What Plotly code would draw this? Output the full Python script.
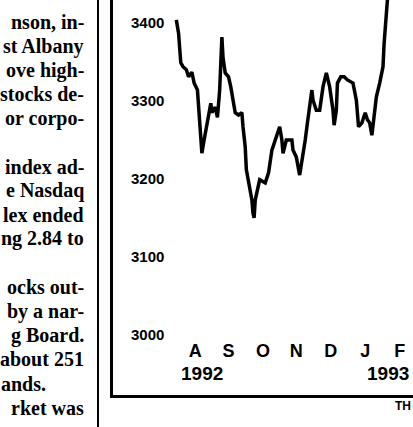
import plotly.graph_objects as go

# ---- data ----
dates = ["1992-07-30","1992-08-01","1992-08-03","1992-08-05","1992-08-08","1992-08-10","1992-08-13","1992-08-15",
         "1992-08-18","1992-08-19","1992-08-21","1992-08-22","1992-08-24","1992-08-27","1992-08-30","1992-08-31",
         "1992-09-03","1992-09-05","1992-09-07","1992-09-09","1992-09-10","1992-09-12","1992-09-15","1992-09-17",
         "1992-09-19","1992-09-21","1992-09-24","1992-09-27","1992-09-28","1992-09-30",
         "1992-10-01","1992-10-04","1992-10-06","1992-10-07","1992-10-08","1992-10-09","1992-10-12","1992-10-13",
         "1992-10-18","1992-10-21","1992-10-24","1992-10-27","1992-10-31",
         "1992-11-02","1992-11-03","1992-11-06","1992-11-11","1992-11-12","1992-11-15","1992-11-18","1992-11-20",
         "1992-11-23","1992-11-25","1992-11-27","1992-11-29","1992-11-30",
         "1992-12-03","1992-12-06","1992-12-09","1992-12-12","1992-12-15","1992-12-18","1992-12-19","1992-12-21",
         "1992-12-22","1992-12-25","1992-12-28","1992-12-31",
         "1993-01-05","1993-01-08","1993-01-10","1993-01-13","1993-01-16","1993-01-18","1993-01-20","1993-01-22",
         "1993-01-24","1993-01-26","1993-01-29",
         "1993-02-01","1993-02-02","1993-02-04","1993-02-05","1993-02-08"]
values = [3404,3387,3349,3344,3340,3331,3337,3323,3314,3292,3259,3233,3250,3272,3297,3285,
          3292,3279,3314,3382,3356,3336,3331,3318,3301,3285,3282,3285,3267,3241,
          3212,3186,3173,3156,3150,3173,3190,3199,3195,3208,3237,3250,3267,
          3250,3233,3250,3250,3237,3228,3205,3221,3250,3272,3292,3314,3301,
          3288,3288,3318,3336,3318,3288,3269,3288,3323,3331,3331,3327,
          3323,3301,3267,3272,3285,3276,3272,3256,3279,3305,3323,
          3344,3374,3404,3430,3445]

y_tick_values = [3000, 3100, 3200, 3300, 3400]
y_tick_labels = ["3000", "3100", "3200", "3300", "3400"]
month_dates = ["1992-08-16", "1992-09-15", "1992-10-16", "1992-11-15", "1992-12-16", "1993-01-16", "1993-02-16"]
month_labels = ["A", "S", "O", "N", "D", "J", "F"]
year_labels = ["1992", "1993"]
year_dates = ["1992-08-22", "1993-02-26"]
year_anchor = ["center", "right"]
year_level = 2951

column_text = ["nson, in-", "st Albany", "ove high-", "stocks de-", "or corpo-", "",
               "index ad-", "e Nasdaq", "lex ended", "ng 2.84 to", "",
               "ocks out-", "by a nar-", "g Board.", "about 251", "ands.", "rket was"]
credit_text = "TH"

# ---- layout helpers (pixel -> paper) ----
W, H = 413, 427
L, T, B = 113, 0, 32
PW, PH = W - L, H - T - B


def px(x):
    return (x - L) / PW


def py(y):
    return (T + PH - y) / PH


fig = go.Figure()
fig.add_trace(go.Scatter(x=dates, y=values, mode="lines",
                         line=dict(color="black", width=3.5), hoverinfo="skip"))

annotations = []
serif = "Liberation Serif, Times New Roman, serif"
for i, t in enumerate(column_text):
    if not t:
        continue
    right = 48 if t == "ands." else 86
    annotations.append(dict(x=px(right), y=py(22 + 24.1 * i), xref="paper", yref="paper",
                            text=t, showarrow=False, xanchor="right", yanchor="middle",
                            font=dict(family=serif, size=20, color="black", weight="bold")))

for lab, d, anc in zip(year_labels, year_dates, year_anchor):
    annotations.append(dict(x=d, y=year_level, xref="x", yref="y", text=lab, showarrow=False,
                            xanchor=anc, yanchor="middle",
                            font=dict(family="Liberation Sans, Arial, sans-serif",
                                      size=19, color="black", weight="bold")))

annotations.append(dict(x=px(413), y=py(406), xref="paper", yref="paper", text=credit_text,
                        showarrow=False, xanchor="right", yanchor="middle",
                        font=dict(family="Liberation Sans, sans-serif", size=12,
                                  color="black", weight="bold")))

shapes = [dict(type="line", xref="paper", yref="paper", x0=px(98), x1=px(98), y0=py(0), y1=py(427),
               line=dict(color="black", width=2))]

fig.update_layout(
    width=W, height=H,
    margin=dict(l=L, r=0, t=T, b=B, pad=0),
    paper_bgcolor="white", plot_bgcolor="white",
    showlegend=False,
    annotations=annotations,
    shapes=shapes,
    xaxis=dict(type="date", range=["1992-06-03", "1993-02-28"],
               tickmode="array", tickvals=month_dates, ticktext=month_labels,
               ticks="", showgrid=False, zeroline=False,
               showline=True, linecolor="black", linewidth=3,
               ticklabelposition="inside", ticklabelstandoff=35, ticklabeloverflow="allow",
               tickfont=dict(family="Liberation Sans, Arial, sans-serif", size=18,
                             color="black", weight="bold")),
    yaxis=dict(range=[2923, 3429.5], tickmode="array", tickvals=y_tick_values, ticktext=y_tick_labels,
               ticks="", showgrid=False, zeroline=False,
               showline=True, linecolor="black", linewidth=3,
               ticklabelposition="inside", ticklabelstandoff=18, ticklabeloverflow="allow",
               tickfont=dict(family="Liberation Sans, Arial, sans-serif",
                             size=15, color="black", weight="bold")),
)

fig.write_html("out.html", config={"displayModeBar": False},
               post_script="document.body.style.margin='0';document.body.style.overflow='hidden';")
